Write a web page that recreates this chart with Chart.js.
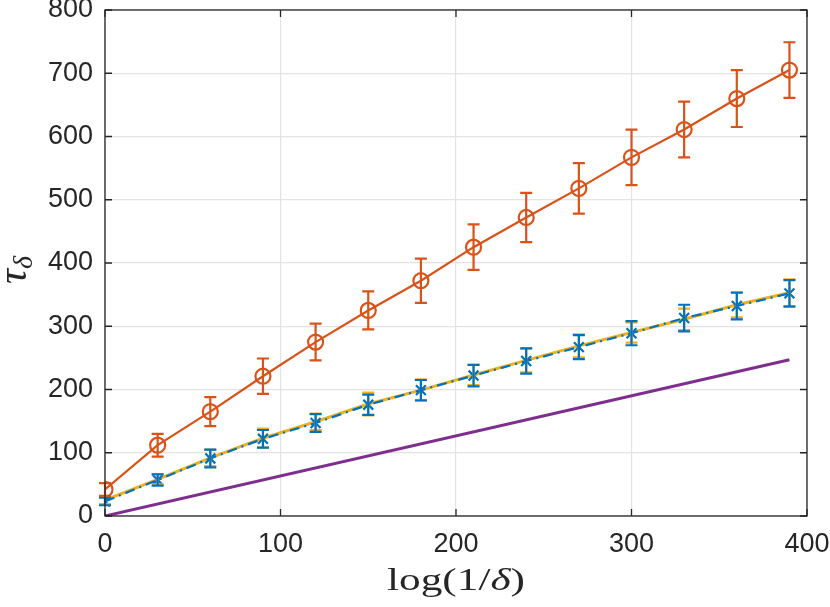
<!DOCTYPE html>
<html lang="en">
<head>
  <meta charset="UTF-8" />
  <title>tau vs log(1/delta)</title>
  <style>
    html, body { margin: 0; padding: 0; background: #fff; }
    #wrap { width: 830px; height: 607px; }
  </style>
</head>
<body>
  <div id="wrap"><canvas id="chart" width="830" height="607"></canvas></div>

  <script src="https://cdn.jsdelivr.net/npm/chart.js"></script>
  <script>
    // values
    const xValues = [0, 30, 60, 90, 120, 150, 180, 210, 240, 270, 300, 330, 360, 390];
    const orangeMean = [42, 112, 165, 221, 275, 325, 372, 425, 472, 518, 567, 611, 660, 705];
    const orangeErr = [10, 18, 23, 28, 29, 30, 35, 36, 39, 40, 44, 44, 45, 44];
    const yellowMean = [25, 58, 92, 123, 149, 177, 199, 223, 246, 269, 290, 311, 334, 353];
    const yellowErr = [6, 8, 13, 15, 13, 18, 17, 16, 19, 18, 16, 17, 20, 21];
    const blueMean = [23, 57, 91, 122, 147, 176, 199, 222, 245, 267, 289, 313, 332, 352];
    const blueErr = [6, 9, 14, 14, 14, 16, 16, 17, 20, 19, 19, 21, 21, 21];
    const purpleX = [0, 390];
    const purpleY = [0, 247];
    const xTicks = [0, 100, 200, 300, 400];
    const yTicks = [0, 100, 200, 300, 400, 500, 600, 700, 800];

    const ORANGE = '#D95319', YELLOW = '#EDB120', BLUE = '#0072BD', PURPLE = '#7E2F8E';
    const AXIS = '#262626';

    const pts = (xs, ys) => xs.map((x, i) => ({ x: x, y: ys[i] }));

    // error bars, drawn through the scales
    const errorBars = {
      id: 'errorBars',
      afterDatasetsDraw(chart) {
        const ctx = chart.ctx;
        const ys = chart.scales.y, xs = chart.scales.x;
        [1, 0, 2].forEach(di => {
          const ds = chart.data.datasets[di];
          if (!ds.errors) return;
          ctx.save();
          ctx.strokeStyle = ds.errColor;
          ctx.lineWidth = 2.2;
          ds.data.forEach((p, i) => {
            const e = ds.errors[i];
            const px = xs.getPixelForValue(p.x);
            const top = ys.getPixelForValue(p.y + e);
            const bot = ys.getPixelForValue(p.y - e);
            ctx.beginPath();
            ctx.moveTo(px, top); ctx.lineTo(px, bot);
            ctx.moveTo(px - 6, top); ctx.lineTo(px + 6, top);
            ctx.moveTo(px - 6, bot); ctx.lineTo(px + 6, bot);
            ctx.stroke();
          });
          ctx.restore();
        });
      }
    };

    // box, inward ticks and the LaTeX-ish axis titles
    const frame = {
      id: 'frame',
      afterDraw(chart) {
        const ctx = chart.ctx;
        const a = chart.chartArea;
        const xs = chart.scales.x, ys = chart.scales.y;
        ctx.save();
        ctx.strokeStyle = AXIS;
        ctx.lineWidth = 1.3;
        ctx.strokeRect(a.left, a.top, a.right - a.left, a.bottom - a.top);
        ctx.beginPath();
        xTicks.forEach(v => {
          const px = xs.getPixelForValue(v);
          ctx.moveTo(px, a.bottom); ctx.lineTo(px, a.bottom - 7);
          ctx.moveTo(px, a.top); ctx.lineTo(px, a.top + 7);
        });
        yTicks.forEach(v => {
          const py = ys.getPixelForValue(v);
          ctx.moveTo(a.left, py); ctx.lineTo(a.left + 7, py);
          ctx.moveTo(a.right, py); ctx.lineTo(a.right - 7, py);
        });
        ctx.stroke();

        // x title: log(1/δ)
        ctx.fillStyle = AXIS;
        ctx.textBaseline = 'alphabetic';
        const up = '32px "Liberation Serif", serif';
        const it = 'italic 32px "Liberation Serif", serif';
        const parts = [['log(1/', up], ['\u03B4', it], [')', up]];
        let w = 0;
        parts.forEach(p => { ctx.font = p[1]; w += ctx.measureText(p[0]).width; });
        const target = 138;
        const cx = (a.left + a.right) / 2;
        ctx.save();
        ctx.translate(cx - target / 2, 590);
        ctx.scale(target / w, 1);
        let x = 0;
        parts.forEach(p => { ctx.font = p[1]; ctx.fillText(p[0], x, 0); x += ctx.measureText(p[0]).width; });
        ctx.restore();

        // y title: τ_δ
        ctx.save();
        ctx.translate(26, 284);
        ctx.rotate(-Math.PI / 2);
        ctx.font = 'italic 42px "Liberation Serif", serif';
        ctx.fillText('\u03C4', 0, 0);
        const tw = ctx.measureText('\u03C4').width;
        ctx.font = 'italic 28px "Liberation Serif", serif';
        ctx.fillText('\u03B4', tw, 6);
        ctx.restore();
        ctx.restore();
      }
    };

    const noPad = s => { s.paddingTop = 0; s.paddingBottom = 0; s.paddingLeft = 0; s.paddingRight = 0; };

    new Chart(document.getElementById('chart'), {
      type: 'scatter',
      data: {
        datasets: [
          {
            label: 'blue',
            data: pts(xValues, blueMean),
            errors: blueErr,
            errColor: BLUE,
            showLine: true,
            borderColor: BLUE,
            backgroundColor: BLUE,
            borderWidth: 2.2,
            borderDash: [10, 5, 2, 5],
            pointStyle: 'crossRot',
            pointRadius: 7,
            pointBorderWidth: 2.2,
            order: 1
          },
          {
            label: 'yellow',
            data: pts(xValues, yellowMean),
            errors: yellowErr,
            errColor: YELLOW,
            showLine: true,
            borderColor: YELLOW,
            backgroundColor: YELLOW,
            borderWidth: 3,
            pointRadius: 0,
            order: 2
          },
          {
            label: 'orange',
            data: pts(xValues, orangeMean),
            errors: orangeErr,
            errColor: ORANGE,
            showLine: true,
            borderColor: ORANGE,
            backgroundColor: 'rgba(0,0,0,0)',
            borderWidth: 2.2,
            pointStyle: 'circle',
            pointRadius: 7.5,
            pointBorderWidth: 2.2,
            order: 3
          },
          {
            label: 'purple',
            data: pts(purpleX, purpleY),
            showLine: true,
            borderColor: PURPLE,
            backgroundColor: PURPLE,
            borderWidth: 3,
            pointRadius: 0,
            order: 4
          }
        ]
      },
      options: {
        responsive: false,
        animation: false,
        layout: { padding: { top: 10, right: 23, left: 0, bottom: 0 } },
        plugins: { legend: { display: false }, tooltip: { enabled: false } },
        elements: { line: { tension: 0 } },
        scales: {
          x: {
            type: 'linear',
            min: 0, max: 400,
            afterBuildTicks: s => { s.ticks = xTicks.map(v => ({ value: v })); },
            afterFit: s => { s.height = 91; noPad(s); },
            grid: { color: '#e3e3e3', lineWidth: 1.2, drawTicks: false },
            border: { display: false },
            ticks: { color: AXIS, padding: 12, font: { family: '"Liberation Sans", Arial, sans-serif', size: 27 } }
          },
          y: {
            type: 'linear',
            min: 0, max: 800,
            afterBuildTicks: s => { s.ticks = yTicks.map(v => ({ value: v })); },
            afterFit: s => { s.width = 105; noPad(s); },
            grid: { color: '#e3e3e3', lineWidth: 1.2, drawTicks: false },
            border: { display: false },
            ticks: { color: AXIS, padding: 12, font: { family: '"Liberation Sans", Arial, sans-serif', size: 27 } }
          }
        }
      },
      plugins: [errorBars, frame]
    });
  </script>
</body>
</html>
